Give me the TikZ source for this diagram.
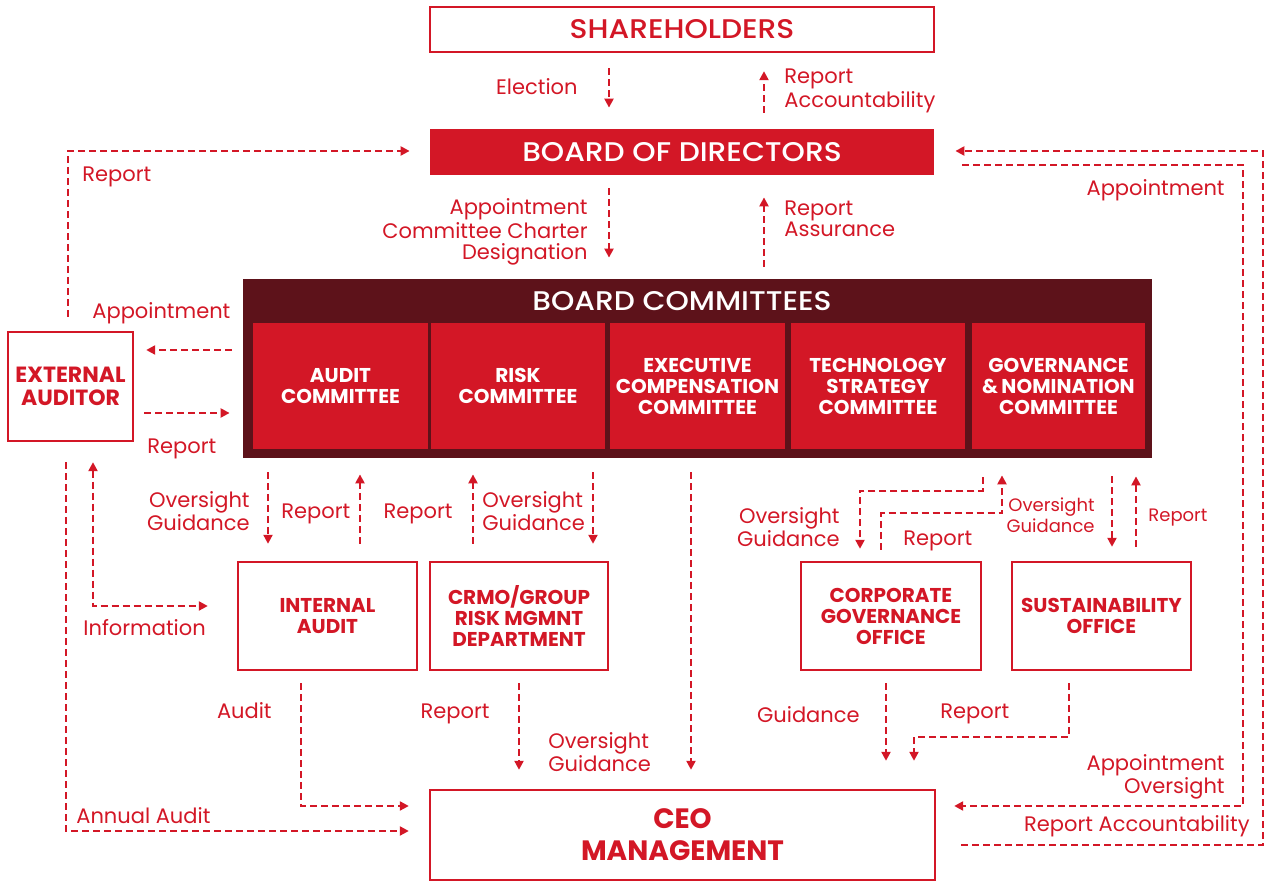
\documentclass[tikz,border=0pt]{standalone}
\usepackage{fontspec}
\setmainfont{Poppins}
\newfontfamily\headfont{Poppins}[UprightFont=* Medium, FakeStretch=1.1]
\usetikzlibrary{arrows.meta,calc}
\definecolor{govred}{RGB}{211,23,38}
\definecolor{govdark}{RGB}{93,18,26}
\newcommand{\lblsize}{\fontsize{10.5}{10.5}\selectfont}
\tikzstyle{outbox}=[draw=govred, line width=1.2pt, fill=white, inner sep=0pt, text=govred, align=center, text depth=0pt]
\tikzstyle{redbox}=[fill=govred, inner sep=0pt, text=white, align=center, text depth=0pt]
\tikzstyle{unit}=[minimum height=54pt]
\tikzstyle{cmte}=[redbox, minimum height=63pt]
\tikzstyle{headtxt}=[font=\headfont\fontsize{13.5}{16}\selectfont]
\tikzstyle{unittxt}=[font=\bfseries\fontsize{10}{10.5}\selectfont]
\tikzstyle{lbl}=[text=govred, inner sep=0pt, font=\lblsize, text depth=0pt]
\tikzstyle{flow}=[draw=govred, line width=1.1pt, dash pattern=on 3.5pt off 2pt, -{Triangle[length=4.5pt,width=4.5pt]}]

\begin{document}
\begin{tikzpicture}[x=0.5pt, y=-0.5pt]
  \useasboundingbox (0,0) rectangle (1266,881);

  % top of the structure
  \node (sh) [outbox, headtxt, minimum width=252pt, minimum height=22.5pt] at (682,29.5) {SHAREHOLDERS};
  \node (bod) [redbox, headtxt, minimum width=252pt, minimum height=23pt] at (682,152) {BOARD OF DIRECTORS};
  \draw [style=flow] ($(sh.south)+(-73,15)$) -- ($(bod.north)+(-73,-21)$);
  \draw [style=flow] ($(bod.north)+(82,-16)$) -- ($(sh.south)+(82,18)$);
  \node (l1) [lbl, anchor=east] at (578,87) {Election};
  \node (l2) [lbl, anchor=west, align=left] at (784,88) {Report\\Accountability};

  % board committees
  \node (bc) [fill=govdark, inner sep=0pt, minimum width=454.5pt, minimum height=89.5pt] at (697.5,368.5) {};
  \node (bct) [headtxt, text=white, text depth=0pt] at (682,301) {BOARD COMMITTEES};
  \node (ac) [cmte, unittxt, minimum width=87.5pt] at (340.5,386) {AUDIT\\COMMITTEE};
  \node (rc) [cmte, unittxt, minimum width=87pt] at (518,386) {RISK\\COMMITTEE};
  \node (ec) [cmte, unittxt, minimum width=87.5pt] at (697.5,386) {EXECUTIVE\\COMPENSATION\\COMMITTEE};
  \node (tc) [cmte, unittxt, minimum width=87pt] at (878,386) {TECHNOLOGY\\STRATEGY\\COMMITTEE};
  \node (gc) [cmte, unittxt, minimum width=86.5pt] at (1058.5,386) {GOVERNANCE\\\&\,NOMINATION\\COMMITTEE};
  \draw [style=flow] ($(bod.south)+(-73,13)$) -- ($(bc.north)+(-88.5,-21)$);
  \draw [style=flow] ($(bc.north)+(66.5,-12)$) -- ($(bod.south)+(82,22)$);
  \node (l3) [lbl, anchor=east, align=right] at (588,229) {Appointment\\Committee Charter\\Designation};
  \node (l4) [lbl, anchor=west, align=left] at (784,219) {Report\\Assurance};

  % external auditor
  \node (ea) [outbox, font=\bfseries\fontsize{11}{11.5}\selectfont, minimum width=62.5pt, minimum height=54.5pt] at (70.5,386.5) {EXTERNAL\\AUDITOR};
  \draw [style=flow] ($(bc.west)+(-11,-18.5)$) -- ($(ea.east)+(12,-36.5)$);
  \draw [style=flow] ($(ea.east)+(10,26.5)$) -- ($(bc.west)+(-13,44.5)$);
  \node (l5) [lbl, anchor=west] at (92,311) {Appointment};
  \node (l6) [lbl, anchor=west] at (147,446) {Report};
  \draw [style=flow] ($(ea.north)+(-2.5,-14)$) |- ($(bod.west)+(-20,-1)$);
  \node (l7) [lbl, anchor=west] at (82,174) {Report};

  % units below the committees
  \node (ia) [outbox, unit, unittxt, minimum width=89.5pt] at (327.5,616) {INTERNAL\\AUDIT};
  \node (cr) [outbox, unit, unittxt, minimum width=89pt] at (519,616) {CRMO/GROUP\\RISK MGMNT\\DEPARTMENT};
  \node (cg) [outbox, unit, unittxt, minimum width=90pt] at (891,616) {CORPORATE\\GOVERNANCE\\OFFICE};
  \node (so) [outbox, unit, unittxt, minimum width=89.5pt] at (1101.5,616) {SUSTAINABILITY\\OFFICE};
  \draw [style=flow] ($(ac.south)+(-72.5,23)$) -- ($(ia.north)+(-59.5,-17)$);
  \draw [style=flow] ($(ia.north)+(32.5,-17)$) -- ($(ac.south)+(19.5,25)$);
  \draw [style=flow] ($(cr.north)+(-46,-17)$) -- ($(rc.south)+(-45,25)$);
  \draw [style=flow] ($(rc.south)+(75,23)$) -- ($(cr.north)+(74,-17)$);
  \node (l8) [lbl, anchor=east, align=right] at (250,511) {Oversight\\Guidance};
  \node (l9) [lbl, anchor=west] at (281,511) {Report};
  \node (l10) [lbl, anchor=east] at (453,511) {Report};
  \node (l11) [lbl, anchor=west, align=left] at (482,511) {Oversight\\Guidance};
  \draw [style=flow] ($(gc.south)+(-75.5,28)$) |- ($(cg.north)+(-31,-70)$) -- ($(cg.north)+(-31,-12)$);
  \draw [style=flow] ($(cg.north)+(-10,-11)$) |- ($(gc.south)+(-56.5,64)$) -- ($(gc.south)+(-56.5,26)$);
  \draw [style=flow] ($(gc.south)+(53.5,27)$) -- ($(so.north)+(10.5,-14)$);
  \draw [style=flow] ($(so.north)+(34.5,-14)$) -- ($(gc.south)+(77.5,27)$);
  \node (l12) [lbl, anchor=east, align=right] at (840,527) {Oversight\\Guidance};
  \node (l13) [lbl, anchor=west] at (903,538) {Report};
  \node (l14) [lbl, anchor=east, align=right, font=\fontsize{9}{10.5}\selectfont] at (1095,515) {Oversight\\Guidance};
  \node (l15) [lbl, anchor=west, font=\fontsize{9}{10.5}\selectfont] at (1148,515) {Report};
  \draw [style=flow, {Triangle[length=4.5pt,width=4.5pt]}-{Triangle[length=4.5pt,width=4.5pt]}] ($(ea.south)+(22.5,20)$) |- ($(ia.west)+(-29,-10)$);
  \node (l16) [lbl, anchor=west] at (83,627) {Information};

  % ceo management
  \node (ceo) [outbox, font=\bfseries\fontsize{14}{16}\selectfont, minimum width=252.5pt, minimum height=45pt] at (682.5,835) {CEO\\MANAGEMENT};
  \draw [style=flow] ($(ec.south)+(-6.5,23)$) -- ($(ceo.north)+(8.5,-19)$);
  \node (l17) [lbl, anchor=west, align=left] at (548,752) {Oversight\\Guidance};
  \draw [style=flow] ($(ia.south)+(-26.5,12)$) |- ($(ceo.west)+(-20,-29)$);
  \draw [style=flow] ($(ea.south)+(-4.5,20)$) |- ($(ceo.west)+(-20,-4)$);
  \draw [style=flow] ($(cr.south)+(0,12)$) -- ($(ceo.north)+(-163.5,-19)$);
  \draw [style=flow] ($(cg.south)+(-5,12)$) -- ($(ceo.north)+(203.5,-28)$);
  \draw [style=flow] ($(so.south)+(-32.5,12)$) |- ($(ceo.north)+(231.5,-52)$) -- ($(ceo.north)+(231.5,-28)$);
  \node (l18) [lbl, anchor=east] at (272,711) {Audit};
  \node (l19) [lbl, anchor=east] at (490,711) {Report};
  \node (l20) [lbl, anchor=east] at (860,715) {Guidance};
  \node (l21) [lbl, anchor=west] at (940,711) {Report};
  \node (l22) [lbl, anchor=west] at (76,816) {Annual Audit};

  % right side loops
  \coordinate (ri) at (1243,500);
  \coordinate (ro) at (1263,500);
  \draw [style=flow] ($(bod.east)+(28,13)$) -| (ri) |- ($(ceo.east)+(18,-29)$);
  \draw [style=flow] ($(ceo.east)+(25,10)$) -| (ro) |- ($(bod.east)+(21,-1)$);
  \node (l23) [lbl, anchor=east] at (1225,188) {Appointment};
  \node (l24) [lbl, anchor=east, align=right] at (1225,774) {Appointment\\Oversight};
  \node (l25) [lbl, anchor=east] at (1250,824) {Report Accountability};
\end{tikzpicture}
\end{document}
